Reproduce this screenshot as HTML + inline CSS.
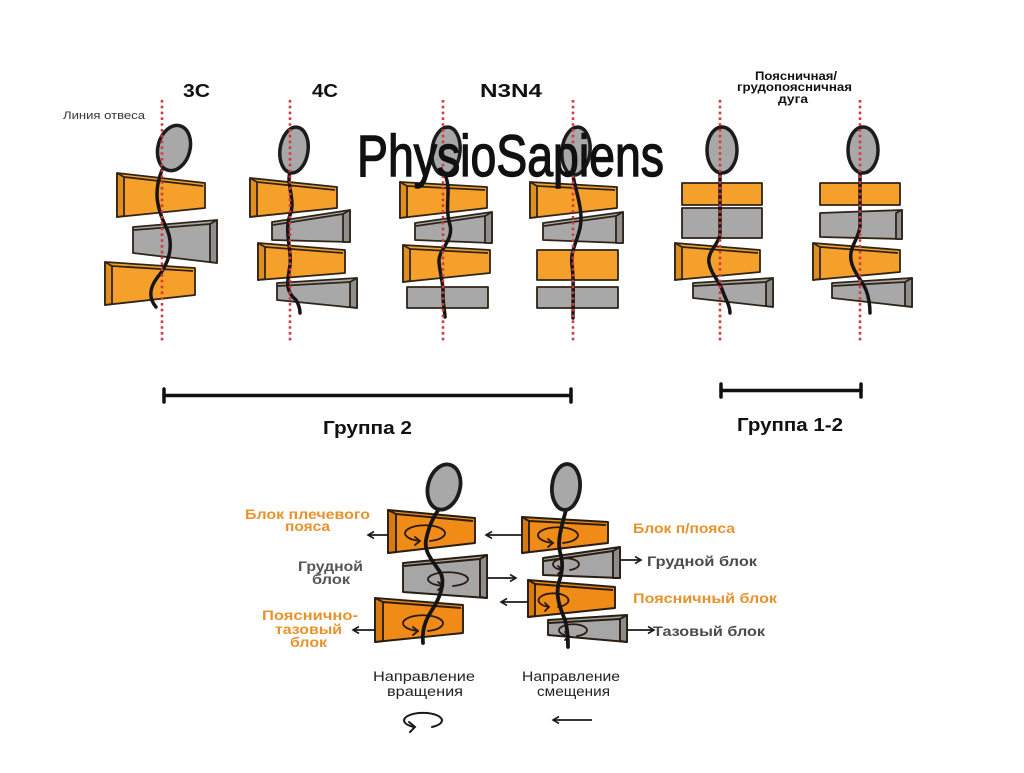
<!DOCTYPE html>
<html>
<head>
<meta charset="utf-8">
<style>
  html,body{margin:0;padding:0;background:#fff;}
  svg{display:block;}
  text{font-family:"Liberation Sans","Noto Sans CJK SC",sans-serif;}
</style>
</head>
<body>
<svg width="1024" height="773" viewBox="0 0 1024 773" xmlns="http://www.w3.org/2000/svg">
<defs>
  <marker id="ah" markerUnits="userSpaceOnUse" markerWidth="10" markerHeight="10" refX="7" refY="4" orient="auto">
    <path d="M1,0.5 L7,4 L1,7.5" fill="none" stroke="#1a1a1a" stroke-width="1.6"/>
  </marker>
</defs>
<rect width="1024" height="773" fill="#fff"/>

<!-- ============ TOP FIGURES: BLOCKS ============ -->
<g stroke="#2e2418" stroke-width="1.8" stroke-linejoin="round">
  <!-- Fig 1 (3C) -->
  <polygon points="117,173 205,183 205,208 117,217" fill="#f4a02b"/>
  <polygon points="117,173 124,177 124,216 117,217" fill="#e08f1f"/>
  <polyline points="124,177 203,186" fill="none"/>
  <polygon points="133,227 217,220 217,263 133,253" fill="#a8a8a8"/>
  <polygon points="210,224 217,220 217,263 210,262" fill="#8f8f8f"/>
  <polyline points="134,230 210,224" fill="none"/>
  <polygon points="105,262 195,268 195,295 105,305" fill="#f4a02b"/>
  <polygon points="105,262 112,266 112,304 105,305" fill="#e08f1f"/>
  <polyline points="112,266 193,271" fill="none"/>

  <!-- Fig 2 (4C) -->
  <polygon points="250,178 337,187 337,208 250,217" fill="#f4a02b"/>
  <polygon points="250,178 257,182 257,216 250,217" fill="#e08f1f"/>
  <polyline points="257,182 335,190" fill="none"/>
  <polygon points="272,222 350,210 350,242 272,240" fill="#a8a8a8"/>
  <polygon points="343,214 350,210 350,242 343,242" fill="#8f8f8f"/>
  <polyline points="273,225 343,214" fill="none"/>
  <polygon points="258,243 345,250 345,273 258,280" fill="#f4a02b"/>
  <polygon points="258,243 265,247 265,279 258,280" fill="#e08f1f"/>
  <polyline points="265,247 343,253" fill="none"/>
  <polygon points="277,283 357,278 357,308 277,300" fill="#a8a8a8"/>
  <polygon points="350,282 357,278 357,308 350,307" fill="#8f8f8f"/>
  <polyline points="278,286 350,282" fill="none"/>

  <!-- Fig 3 -->
  <polygon points="400,182 487,187 487,208 400,218" fill="#f4a02b"/>
  <polygon points="400,182 407,186 407,217 400,218" fill="#e08f1f"/>
  <polyline points="407,186 485,190" fill="none"/>
  <polygon points="415,223 492,212 492,243 415,240" fill="#a8a8a8"/>
  <polygon points="485,216 492,212 492,243 485,243" fill="#8f8f8f"/>
  <polyline points="416,226 485,216" fill="none"/>
  <polygon points="403,245 490,250 490,273 403,282" fill="#f4a02b"/>
  <polygon points="403,245 410,249 410,281 403,282" fill="#e08f1f"/>
  <polyline points="410,249 488,253" fill="none"/>
  <rect x="407" y="287" width="81" height="21" fill="#a8a8a8"/>

  <!-- Fig 4 -->
  <polygon points="530,182 617,187 617,208 530,218" fill="#f4a02b"/>
  <polygon points="530,182 537,186 537,217 530,218" fill="#e08f1f"/>
  <polyline points="537,186 615,190" fill="none"/>
  <polygon points="543,223 623,212 623,243 543,240" fill="#a8a8a8"/>
  <polygon points="616,216 623,212 623,243 616,243" fill="#8f8f8f"/>
  <polyline points="544,226 616,216" fill="none"/>
  <rect x="537" y="250" width="81" height="30" fill="#f4a02b"/>
  <rect x="537" y="287" width="81" height="21" fill="#a8a8a8"/>

  <!-- Fig 5 -->
  <rect x="682" y="183" width="80" height="22" fill="#f4a02b"/>
  <rect x="682" y="208" width="80" height="30" fill="#a8a8a8"/>
  <polygon points="675,243 760,250 760,272 675,280" fill="#f4a02b"/>
  <polygon points="675,243 682,247 682,279 675,280" fill="#e08f1f"/>
  <polyline points="682,247 758,253" fill="none"/>
  <polygon points="693,283 773,278 773,307 693,298" fill="#a8a8a8"/>
  <polygon points="766,282 773,278 773,307 766,306" fill="#8f8f8f"/>
  <polyline points="694,286 766,282" fill="none"/>

  <!-- Fig 6 -->
  <rect x="820" y="183" width="80" height="22" fill="#f4a02b"/>
  <polygon points="820,213 902,210 902,239 820,237" fill="#a8a8a8"/>
  <polygon points="896,213 902,210 902,239 896,239" fill="#8f8f8f"/>
  <polygon points="813,243 900,250 900,272 813,280" fill="#f4a02b"/>
  <polygon points="813,243 820,247 820,279 813,280" fill="#e08f1f"/>
  <polyline points="820,247 898,253" fill="none"/>
  <polygon points="832,283 912,278 912,307 832,298" fill="#a8a8a8"/>
  <polygon points="905,282 912,278 912,307 905,306" fill="#8f8f8f"/>
  <polyline points="833,286 905,282" fill="none"/>
</g>

<!-- ============ TOP FIGURES: SPINES ============ -->
<g fill="none" stroke="#151515" stroke-width="3.5" stroke-linecap="round">
  <path d="M162,170 C154,190 156,205 165,225 C176,245 168,265 157,278 C148,290 150,300 156,307"/>
  <path d="M290,172 C286,185 296,200 290,215 C284,232 292,250 290,265 C288,280 284,290 296,300 C299,305 300,310 300,313"/>
  <path d="M445,175 C452,190 444,205 450,225 C454,240 438,250 439,262 C440,275 444,285 443,295 C443,305 445,312 445,317"/>
  <path d="M573,175 C575,190 584,210 580,228 C577,242 570,252 572,265 C574,280 573,295 573,318"/>
  <path d="M720,173 L720,235 C718,245 707,252 709,263 C711,274 720,282 723,292 C726,300 730,306 730,313"/>
  <path d="M860,173 L860,227 C858,240 849,247 851,260 C853,272 862,280 866,290 C869,298 870,305 870,313"/>
</g>

<!-- ============ TOP FIGURES: HEADS ============ -->
<g fill="#a8a8a8" stroke="#1c1c1c" stroke-width="3.5">
  <ellipse cx="174" cy="148" rx="16" ry="23" transform="rotate(15 174 148)"/>
  <ellipse cx="294" cy="150" rx="14" ry="23" transform="rotate(8 294 150)"/>
  <ellipse cx="446" cy="151" rx="14" ry="24" transform="rotate(6 446 151)"/>
  <ellipse cx="576" cy="151" rx="14" ry="24" transform="rotate(6 576 151)"/>
  <ellipse cx="722" cy="150" rx="15" ry="23"/>
  <ellipse cx="863" cy="150" rx="15" ry="23"/>
</g>

<!-- ============ PLUMB LINES ============ -->
<g stroke="#d23a3f" stroke-width="2.6" stroke-dasharray="2.6 3.2">
  <line x1="162" y1="100" x2="162" y2="343"/>
  <line x1="290" y1="100" x2="290" y2="343"/>
  <line x1="443" y1="100" x2="443" y2="343"/>
  <line x1="573" y1="100" x2="573" y2="343"/>
  <line x1="720" y1="100" x2="720" y2="343"/>
  <line x1="860" y1="100" x2="860" y2="343"/>
</g>

<!-- ============ TOP LABELS ============ -->
<g fill="#111" font-weight="bold">
  <text x="183" y="97" font-size="18" textLength="27" lengthAdjust="spacingAndGlyphs">3C</text>
  <text x="312" y="97" font-size="18" textLength="26" lengthAdjust="spacingAndGlyphs">4C</text>
  <text x="480" y="97" font-size="18" textLength="62" lengthAdjust="spacingAndGlyphs">N3N4</text>
  <text x="755" y="80" font-size="12" textLength="82" lengthAdjust="spacingAndGlyphs">Поясничная/</text>
  <text x="737" y="91" font-size="12" textLength="115" lengthAdjust="spacingAndGlyphs">грудопоясничная</text>
  <text x="778" y="103" font-size="12" textLength="30" lengthAdjust="spacingAndGlyphs">дуга</text>
</g>
<text x="63" y="119" font-size="11" fill="#333" textLength="82" lengthAdjust="spacingAndGlyphs">Линия отвеса</text>

<!-- PhysioSapiens logo -->
<text x="357" y="176" font-size="58" fill="#111" stroke="#111" stroke-width="1.4" textLength="307" lengthAdjust="spacingAndGlyphs">PhysioSapiens</text>

<!-- ============ GROUP BARS ============ -->
<g stroke="#111" stroke-width="3.5" stroke-linecap="round">
  <line x1="164" y1="395.5" x2="571" y2="395.5"/>
  <line x1="164" y1="389" x2="164" y2="402"/>
  <line x1="571" y1="389" x2="571" y2="402"/>
  <line x1="721" y1="390.5" x2="861" y2="390.5"/>
  <line x1="721" y1="384" x2="721" y2="397"/>
  <line x1="861" y1="384" x2="861" y2="397"/>
</g>
<g fill="#111" font-weight="bold" font-size="18">
  <text x="323" y="434" textLength="89" lengthAdjust="spacingAndGlyphs">Группа 2</text>
  <text x="737" y="431" textLength="106" lengthAdjust="spacingAndGlyphs">Группа 1-2</text>
</g>

<!-- ============ BOTTOM FIGURES: BLOCKS ============ -->
<g stroke="#2a1e12" stroke-width="1.9" stroke-linejoin="round">
  <!-- Left figure -->
  <polygon points="388,510 475,518 475,543 388,553" fill="#f08b17"/>
  <polygon points="388,510 396,514 396,552 388,553" fill="#d97a10"/>
  <polyline points="396,514 473,521" fill="none"/>
  <polygon points="403,563 487,555 487,598 403,592" fill="#a6a6a6"/>
  <polygon points="480,559 487,555 487,598 480,597" fill="#8c8c8c"/>
  <polyline points="404,566 480,559" fill="none"/>
  <polygon points="375,598 463,605 463,633 375,642" fill="#f08b17"/>
  <polygon points="375,598 383,602 383,641 375,642" fill="#d97a10"/>
  <polyline points="383,602 461,608" fill="none"/>

  <!-- Right figure -->
  <polygon points="522,517 608,522 608,543 522,553" fill="#f08b17"/>
  <polygon points="522,517 529,521 529,552 522,553" fill="#d97a10"/>
  <polyline points="529,521 606,525" fill="none"/>
  <polygon points="543,558 620,547 620,578 543,575" fill="#a6a6a6"/>
  <polygon points="613,551 620,547 620,578 613,578" fill="#8c8c8c"/>
  <polyline points="544,561 613,551" fill="none"/>
  <polygon points="528,580 615,587 615,608 528,617" fill="#f08b17"/>
  <polygon points="528,580 535,584 535,616 528,617" fill="#d97a10"/>
  <polyline points="535,584 613,590" fill="none"/>
  <polygon points="548,620 627,615 627,642 548,635" fill="#a6a6a6"/>
  <polygon points="620,619 627,615 627,642 620,641" fill="#8c8c8c"/>
  <polyline points="549,623 620,619" fill="none"/>
</g>

<!-- rotation ellipses inside blocks -->
<g fill="none" stroke="#2a1a10" stroke-width="1.8" stroke-linecap="round">
  <path d="M430,541 A20,8 0 1 0 420,541"/>
  <polyline points="415,537 420,541 415,545"/>
  <path d="M453,586 A20,7 0 1 0 443,586"/>
  <polyline points="438,582 443,586 438,590"/>
  <path d="M428,631 A20,8 0 1 0 418,631"/>
  <polyline points="413,627 418,631 413,635"/>

  <path d="M563,543 A20,8 0 1 0 553,543"/>
  <polyline points="548,539 553,543 548,547"/>
  <path d="M570,570 A13,6 0 1 0 562,570"/>
  <polyline points="558,566 562,570 558,574"/>
  <path d="M558,607 A15,7 0 1 0 549,607"/>
  <polyline points="545,603 549,607 545,611"/>
  <path d="M577,636 A14,6 0 1 0 569,636"/>
  <polyline points="565,632 569,636 565,640"/>
</g>

<!-- bottom spines -->
<g fill="none" stroke="#151515" stroke-width="3.8" stroke-linecap="round">
  <path d="M440,508 C432,518 428,530 426,540 C424,552 432,560 440,572 C446,582 440,598 432,610 C424,622 422,632 423,643"/>
  <path d="M566,510 C562,525 557,540 560,552 C563,562 563,570 559,582 C555,595 560,608 565,620 C568,630 568,640 568,647"/>
</g>

<!-- bottom heads -->
<g fill="#a8a8a8" stroke="#1c1c1c" stroke-width="3.8">
  <ellipse cx="444" cy="487" rx="16" ry="23" transform="rotate(15 444 487)"/>
  <ellipse cx="566" cy="487" rx="14" ry="23" transform="rotate(5 566 487)"/>
</g>

<!-- displacement arrows -->
<g stroke="#1a1a1a" stroke-width="1.7" marker-end="url(#ah)">
  <line x1="388" y1="535" x2="368" y2="535"/>
  <line x1="487" y1="578" x2="516" y2="578"/>
  <line x1="375" y1="630" x2="353" y2="630"/>
  <line x1="522" y1="535" x2="486" y2="535"/>
  <line x1="620" y1="560" x2="641" y2="560"/>
  <line x1="528" y1="602" x2="501" y2="602"/>
  <line x1="627" y1="630" x2="654" y2="630"/>
  <line x1="592" y1="720" x2="553" y2="720"/>
</g>

<!-- rotation legend icon -->
<g fill="none" stroke="#1a1a1a" stroke-width="2" stroke-linecap="round">
  <path d="M432,727 A19,7.5 0 1 0 414,727"/>
  <polyline points="409,722 415,727 410,732"/>
</g>

<!-- ============ BOTTOM LABELS ============ -->
<g font-weight="bold" font-size="14">
  <text x="245" y="519" fill="#e8922c" textLength="125" lengthAdjust="spacingAndGlyphs">Блок плечевого</text>
  <text x="285" y="531" fill="#e8922c" textLength="45" lengthAdjust="spacingAndGlyphs">пояса</text>
  <text x="298" y="571" fill="#555" textLength="65" lengthAdjust="spacingAndGlyphs">Грудной</text>
  <text x="312" y="584" fill="#555" textLength="38" lengthAdjust="spacingAndGlyphs">блок</text>
  <text x="262" y="620" fill="#e8922c" textLength="96" lengthAdjust="spacingAndGlyphs">Пояснично-</text>
  <text x="275" y="634" fill="#e8922c" textLength="67" lengthAdjust="spacingAndGlyphs">тазовый</text>
  <text x="290" y="647" fill="#e8922c" textLength="37" lengthAdjust="spacingAndGlyphs">блок</text>

  <text x="633" y="533" fill="#e8922c" textLength="102" lengthAdjust="spacingAndGlyphs">Блок п/пояса</text>
  <text x="647" y="566" fill="#4a4a4a" textLength="110" lengthAdjust="spacingAndGlyphs">Грудной блок</text>
  <text x="633" y="603" fill="#e8922c" textLength="144" lengthAdjust="spacingAndGlyphs">Поясничный блок</text>
  <text x="653" y="636" fill="#4a4a4a" textLength="112" lengthAdjust="spacingAndGlyphs">Тазовый блок</text>
</g>
<g font-size="14" fill="#222">
  <text x="373" y="681" textLength="102" lengthAdjust="spacingAndGlyphs">Направление</text>
  <text x="387" y="696" textLength="76" lengthAdjust="spacingAndGlyphs">вращения</text>
  <text x="522" y="681" textLength="98" lengthAdjust="spacingAndGlyphs">Направление</text>
  <text x="537" y="696" textLength="73" lengthAdjust="spacingAndGlyphs">смещения</text>
</g>
</svg>
</body>
</html>
